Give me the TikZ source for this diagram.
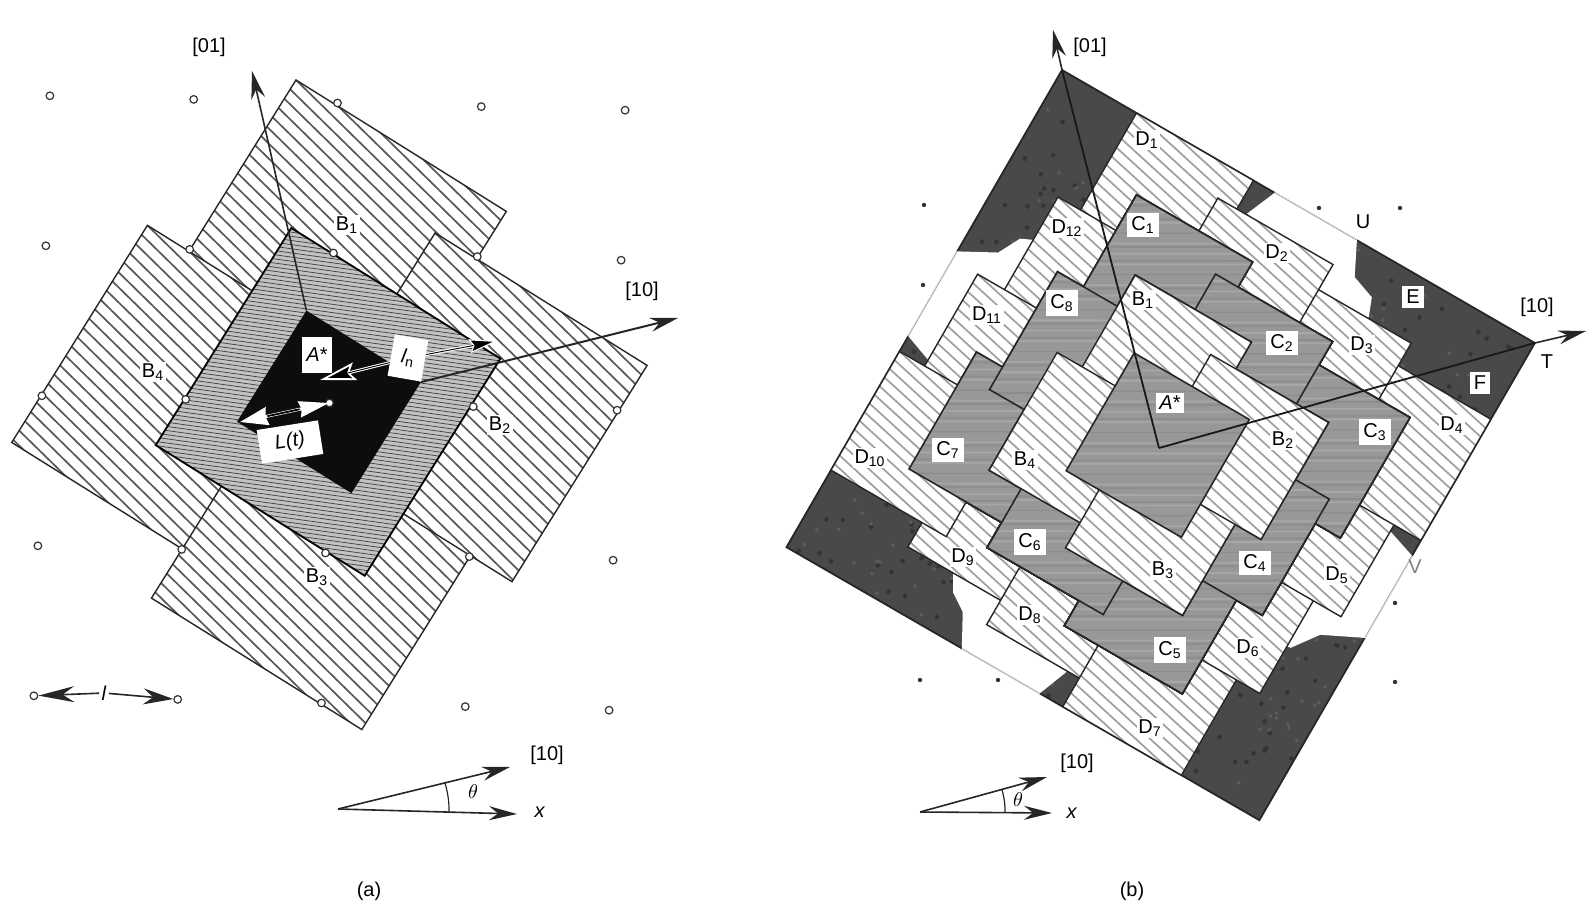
\documentclass[tikz,border=0pt]{standalone}
\usepackage{fontspec}
\setmainfont{Liberation Sans}
\usetikzlibrary{arrows.meta, positioning}
\definecolor{DarkZone}{HTML}{4A4848}
\definecolor{MidZone}{HTML}{9A9896}
\tikzset{
  % Box styles
  boxline/.style={draw=black!85, line width=0.7pt},
  cbox/.style={draw=black!85, line width=0.8pt},
  hatchline/.style={line width=0.85pt},
  % Label styles
  plainlabel/.style={inner sep=1pt, font=\fontsize{10}{12}\selectfont},
  hatchlabel/.style={fill=white, inner sep=0.8pt, font=\fontsize{10}{12}\selectfont},
  whitelabel/.style={fill=white, inner sep=2pt, font=\fontsize{10}{12}\selectfont},
  % Dot styles
  opendot/.style={circle, draw=black!80, fill=white, line width=0.6pt, minimum size=3.8pt, inner sep=0pt},
  griddot/.style={circle, fill=black!80, minimum size=2.2pt, inner sep=0pt},
  % Arrow styles
  axisarrow/.style={-{Stealth[length=14pt, width=7pt]}, line width=0.8pt, black!85},
  whitetip/.style={line width=1.5pt, white}
}
% striped box in the local frame of a scope
\newcommand{\hatchrect}[5][black!65]{%
  \fill[white] (#2,#3) rectangle (#4,#5);
  \begin{scope}
    \clip (#2,#3) rectangle (#4,#5);
    \draw[hatchline, #1] \foreach \k in {-6,...,\hatchlast}
      { ({#2},{#3+\k*\hatchstep}) -- ({#4},{#3+\k*\hatchstep+0.22*((#4)-(#2))}) };
  \end{scope}
  \draw[boxline] (#2,#3) rectangle (#4,#5);
}
% grey box with level streaks
\newcommand{\streakrect}[4]{%
  \fill[MidZone] (#1,#2) rectangle (#3,#4);
  \begin{scope}
    \clip (#1,#2) rectangle (#3,#4);
    \draw[gray!68, line width=0.8pt] \foreach \k in {2,5,...,62}
      { ({#1},{#2+\k*4}) -- ({#3},{#2+\k*4-0.577*((#3)-(#1))}) };
    \draw[gray!90, line width=0.8pt] \foreach \k in {3,7,...,63}
      { ({#1},{#2+\k*4}) -- ({#3},{#2+\k*4-0.577*((#3)-(#1))}) };
  \end{scope}
  \draw[cbox] (#1,#2) rectangle (#3,#4);
}
\begin{document}
\begin{tikzpicture}[x=0.5pt, y=-0.5pt]
  \useasboundingbox (0,0) rectangle (1594,924);

  % Picture (a)
  \begin{scope}[shift={(296,80)}, rotate=-32]
    \def\hatchstep{11}
    \def\hatchlast{24}
    \hatchrect{0}{0}{248}{205}
    \hatchrect{-49}{202}{160}{458}
    \hatchrect{152}{300}{400}{516}
    \hatchrect{199}{56}{449}{311}
    \fill[gray!48] (74.5,128) rectangle (321,384);
    \begin{scope}
      \clip (74.5,128) rectangle (321,384);
      \draw[black!75, line width=0.36pt] \foreach \k in {0,...,82}
        { (74.5,{128+\k*4.5}) -- (321,{128+\k*4.5-110}) };
    \end{scope}
    \draw[black, line width=0.9pt] (74.5,128) rectangle (321,384);
    \fill[black!95] (131,190) rectangle (266,321);
    \coordinate (atop) at (131,190);
    \coordinate (aright) at (266,190);
  \end{scope}

  % Lattice of picture (a)
  \foreach \i in {0,...,4}
    \foreach \j in {0,...,4}
      \node[opendot] (a\i\j) at ({329.5+143.8*(\i-2)-4*(\j-2)}, {403+3.6*(\i-2)+150*(\j-2)}) {};

  \coordinate (atip01) at (252,71);
  \coordinate (atip10) at (678,318);
  \draw[axisarrow] (atop) -- (atip01);
  \draw[axisarrow, line width=1pt] (aright) -- (atip10);
  \node[plainlabel] (a01) at (209,47) {[01]};
  \node[plainlabel] (a10) at (642,291) {[10]};

  % Length arrows on the black square
  \coordinate (ltipa) at (240,422);
  \coordinate (ltipb) at (329,403);
  \coordinate (ntipa) at (320,380);
  \coordinate (ntipb) at (497,341);
  \coordinate (lnmid) at (408,358);
  \draw[whitetip, -{Stealth[length=18pt, width=9pt, inset=3pt, fill=black, line width=0.9pt]}] (lnmid) -- (ntipa);
  \draw[whitetip, -{Stealth[length=14pt, width=7pt, inset=2pt, fill=black, line width=0.5pt]}] (lnmid) -- (ntipb);
  \draw[black, line width=0.45pt, shorten >=12pt] (lnmid) -- (ntipb);
  \draw[black, line width=0.45pt, shorten >=14pt] (lnmid) -- (ntipa);
  \node[whitelabel, rotate=-10, minimum width=17pt, minimum height=21pt] (ln) at (lnmid) {\textit{l}\textsubscript{n}};
  \draw[whitetip, {Stealth[length=14pt, width=9pt, inset=1pt]}-{Stealth[length=15pt, width=8pt, inset=1pt]}] (ltipa) -- (ltipb);
  \draw[black, line width=0.9pt, shorten <=14pt, shorten >=15pt] (ltipa) -- (ltipb);
  \node[whitelabel, rotate=9, minimum width=31pt, minimum height=17pt] (lt) at (290,442) {\textit{L(t)}};
  \node[whitelabel, minimum width=14pt, minimum height=18pt] (astar) at (317,355) {\textit{A}*};

  \node[hatchlabel] (b1a) at (347,225) {B\textsubscript{1}};
  \node[hatchlabel] (b2a) at (500,425) {B\textsubscript{2}};
  \node[hatchlabel] (b3a) at (317,577) {B\textsubscript{3}};
  \node[hatchlabel] (b4a) at (153,372) {B\textsubscript{4}};

  \node[plainlabel] (llab) at (104,693) {\textit{l}};
  \draw[axisarrow, -{Stealth[length=18pt, width=8pt]}] (llab) -- (a04);
  \draw[axisarrow, -{Stealth[length=15pt, width=8pt]}] (llab) -- (a14);

  % Direction key of (a)
  \coordinate (ka) at (338,809);
  \coordinate (ka10) at (510,767);
  \coordinate (kax) at (517,814);
  \draw[axisarrow] (ka) -- (ka10);
  \draw[axisarrow] (ka) -- (kax);
  \draw[black!85, line width=0.6pt] (445,783) to[bend left=8] (449,813);
  \node[plainlabel] (kal) at (547,755) {[10]};
  \node[plainlabel] (kaxl) at (540,812) {\textit{x}};
  \node[plainlabel] (kat) at (473,792) {$\theta$};
  \node[plainlabel] (capa) at (369,891) {(a)};

  % Picture (b)
  \begin{scope}[shift={(1062,70)}, rotate=-30]
    \def\hatchstep{10}
    \def\hatchlast{14}
    \fill[DarkZone] (0,0) rectangle (546,551);
    % Specks of the dark zones
    \pgfmathsetseed{41}
    \fill[black!28!DarkZone] \foreach \n in {1,...,300}
      { ({4+538*rnd},{4+543*rnd}) rectangle ++(4,4) };
    \fill[white!10!DarkZone] \foreach \n in {1,...,260}
      { ({4+538*rnd},{4+543*rnd}) rectangle ++(3,3) };
    \draw[black!85, line width=0.9pt] (0,0) rectangle (546,551);
    % White gaps
    \fill[white] (246,-1) -- (340,-1) -- (357,33) -- (382,42) -- (389,60) -- (389,70) -- (325,70) -- (325,45) -- (232,32) -- cycle;
    \fill[white] (-1,210) -- (36,190) -- (48,167) -- (70,157) -- (70,225) -- (40,225) -- (40,322) -- (29,318) -- (-1,307) -- cycle;
    \fill[white] (156,488) -- (167,507) -- (185,519) -- (203,552) -- (292,552) -- (306,516) -- (220,516) -- (220,488) -- cycle;
    \fill[white] (547,246) -- (505,232) -- (505,325) -- (475,325) -- (475,388) -- (487,386) -- (506,360) -- (547,340) -- cycle;
    \draw[gray!70, line width=0.4pt] (246,0) -- (340,0);
    \draw[gray!70, line width=0.4pt] (0,210) -- (0,307);
    \draw[gray!70, line width=0.4pt] (203,551) -- (292,551);
    \draw[gray!70, line width=0.4pt] (546,246) -- (546,340);
    % D boxes
    \foreach \sa/\ta/\sb/\tb in {105/355/240/490, 212/383/345/518, 319/415/456/551, 350/305/483/441,
      381/198/515/334, 408/88/546/228, 305/62/439/197, 86/0/221/138, 199/33/332/168,
      60/112/195/248, 29/219/165/355, 0/325/133/462}
      \hatchrect[gray!75]{\sa}{\ta}{\sb}{\tb}
    % C boxes
    \foreach \sa/\ta/\sb/\tb in {127/71/261/207, 340/127/475/266, 280/345/416/480, 67/287/200/422,
      235/100/370/236, 310/238/446/372, 174/316/308/451, 97/177/232/313}
      \streakrect{\sa}{\ta}{\sb}{\tb}
    % B boxes
    \hatchrect[gray!75]{166}{141}{300}{275}
    \hatchrect[gray!75]{137}{247}{272}{383}
    \hatchrect[gray!75]{242}{275}{377}{412}
    \hatchrect[gray!75]{271}{172}{407}{307}
    \streakrect{204}{209}{337}{345}
    \coordinate (bt) at (546,0);
    \coordinate (bl) at (0,0);
  \end{scope}

  % Axes of (b)
  \coordinate (bo) at (1159,448);
  \coordinate (btip01) at (1053,30);
  \coordinate (btip10) at (1586,331);
  \draw[black!90, line width=0.9pt] (bo) -- (bl);
  \draw[black!90, line width=0.9pt] (bo) -- (bt);
  \draw[axisarrow] (bl) -- (btip01);
  \draw[axisarrow] (bt) -- (btip10);

  % Grid dots of (b)
  \foreach \px/\py [count=\n] in {924/205, 1005/205, 923/285, 843/520, 920/680, 998/680, 1395/603, 1395/682,
    1319/208, 1400/208, 1315/681, 1235/762, 1405/330}
    \node[griddot] (d\n) at (\px,\py) {};

  % Labels of (b)
  \foreach \lx/\ly/\lt [count=\n] in {1147/140/1, 1277/253/2, 1362/345/3, 1452/425/4, 1337/575/5, 1248/648/6,
    1150/728/7, 1030/615/8, 963/557/9, 870/458/10, 987/315/11, 1067/228/12}
    \node[hatchlabel] (dl\n) at (\lx,\ly) {D\textsubscript{\lt}};
  \foreach \lx/\ly/\lt [count=\n] in {1143/225/1, 1282/343/2, 1375/432/3, 1255/563/4, 1170/650/5, 1030/542/6,
    948/450/7, 1062/303/8}
    \node[whitelabel] (cl\n) at (\lx,\ly) {C\textsubscript{\lt}};
  \foreach \lx/\ly/\lt [count=\n] in {1143/300/1, 1283/440/2, 1163/570/3, 1025/460/4}
    \node[hatchlabel] (bl\n) at (\lx,\ly) {B\textsubscript{\lt}};
  \node[whitelabel, inner sep=1.5pt] (astarb) at (1170,403) {\textit{A}*};
  \node[whitelabel] (elab) at (1413,297) {E};
  \node[whitelabel] (flab) at (1480,383) {F};
  \node[plainlabel] (ulab) at (1363,222) {U};
  \node[plainlabel, text=gray] (vlab) at (1415,567) {V};
  \node[plainlabel] (tlab) at (1547,362) {T};
  \node[plainlabel] (b01) at (1090,47) {[01]};
  \node[plainlabel] (b10) at (1537,307) {[10]};

  % Direction key of (b)
  \coordinate (kb) at (920,812);
  \coordinate (kb10) at (1047,777);
  \coordinate (kbx) at (1052,813);
  \draw[axisarrow] (kb) -- (kb10);
  \draw[axisarrow] (kb) -- (kbx);
  \draw[black!85, line width=0.6pt] (1002,790) to[bend left=8] (1005,812);
  \node[plainlabel] (kbl) at (1077,763) {[10]};
  \node[plainlabel] (kbxl) at (1072,813) {\textit{x}};
  \node[plainlabel] (kbt) at (1018,800) {$\theta$};
  \node[plainlabel] (capb) at (1132,891) {(b)};
\end{tikzpicture}
\end{document}
